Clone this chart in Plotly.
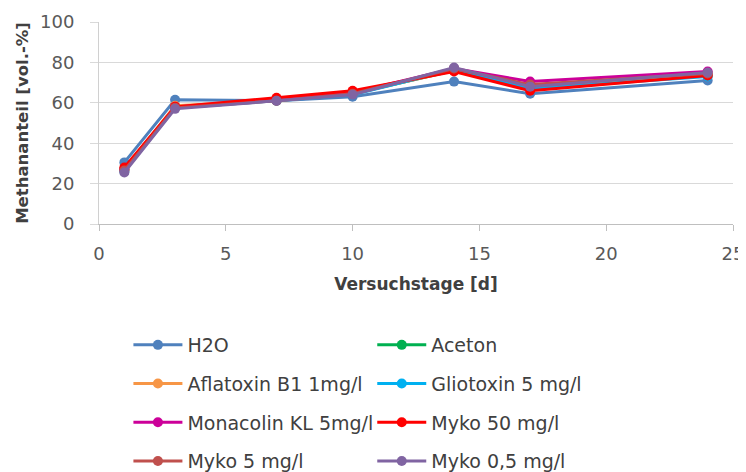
import plotly.graph_objects as go

days = [1, 3, 7, 10, 14, 17, 24]
series_names = ["H2O", "Aceton", "Aflatoxin B1 1mg/l", "Gliotoxin 5 mg/l",
                "Monacolin KL 5mg/l", "Myko 50 mg/l", "Myko 5 mg/l", "Myko 0,5 mg/l"]
h2o        = [30.5, 61.5, 61.0, 63.0, 70.5, 64.5, 71.0]
aceton     = [27.0, 58.0, 61.5, 64.5, 76.0, 67.5, 73.5]
aflatoxin  = [27.0, 58.5, 61.0, 64.5, 76.0, 67.0, 73.5]
gliotoxin  = [26.0, 57.5, 61.0, 64.0, 76.5, 67.0, 73.0]
monacolin  = [27.0, 58.0, 61.5, 65.0, 77.0, 70.5, 75.5]
myko50     = [28.0, 58.0, 62.5, 66.0, 75.5, 66.0, 73.5]
myko5      = [26.5, 57.5, 61.0, 64.5, 77.0, 69.0, 74.5]
myko05     = [25.5, 57.0, 61.0, 64.0, 77.5, 68.0, 75.0]
values = [h2o, aceton, aflatoxin, gliotoxin, monacolin, myko50, myko5, myko05]
colors = ["#4F81BD", "#00B050", "#F79646", "#00B0F0",
          "#CC0099", "#FF0000", "#C0504D", "#8064A2"]
x_ticks = [0, 5, 10, 15, 20, 25]
y_ticks = [0, 20, 40, 60, 80, 100]

FONT = "DejaVu Sans, Liberation Sans, sans-serif"

fig = go.Figure()
for i, (name, vals, col) in enumerate(zip(series_names, values, colors)):
    fig.add_trace(go.Scatter(
        x=days, y=vals, name=name, mode="lines+markers",
        line=dict(color=col, width=3),
        marker=dict(color=col, size=10, symbol="circle"),
        legend="legend" if i % 2 == 0 else "legend2",
        legendgroup=name,
    ))

legend_common = dict(
    orientation="v", yanchor="top", xanchor="left",
    font=dict(family=FONT, size=19, color="#404040"),
    bgcolor="rgba(0,0,0,0)", tracegroupgap=11, itemwidth=49,
)

fig.update_layout(
    width=746, height=472,
    margin=dict(l=91, r=21, t=14, b=256, autoexpand=False),
    paper_bgcolor="white", plot_bgcolor="white",
    font=dict(family=FONT, color="#595959"),
    showlegend=True,
    legend=dict(x=0.0464, y=-0.505, **legend_common),
    legend2=dict(x=0.431, y=-0.505, **legend_common),
    xaxis=dict(
        range=[0, 25], tickvals=x_ticks, showgrid=False, automargin=False,
        showline=True, linecolor="#BFBFBF", linewidth=1,
        ticks="outside", ticklen=6, tickcolor="#BFBFBF",
        tickfont=dict(family=FONT, size=18, color="#595959"),
        ticklabelstandoff=7,
        title=dict(text="<b>Versuchstage [d]</b>", standoff=15,
                   font=dict(family=FONT, size=17, color="#404040")),
        zeroline=False,
    ),
    yaxis=dict(
        range=[0, 100], tickvals=y_ticks, showgrid=True, automargin=False,
        gridcolor="#D9D9D9", gridwidth=1,
        showline=True, linecolor="#D0D0D0", linewidth=1,
        ticks="outside", ticklen=8, tickcolor="#D9D9D9",
        tickfont=dict(family=FONT, size=18, color="#595959"),
        ticklabelstandoff=12,
        title=dict(text="<b>Methananteil [vol.-%]</b>", standoff=7,
                   font=dict(family=FONT, size=16.5, color="#404040")),
        zeroline=False,
    ),
)

fig.write_html("out.html")
